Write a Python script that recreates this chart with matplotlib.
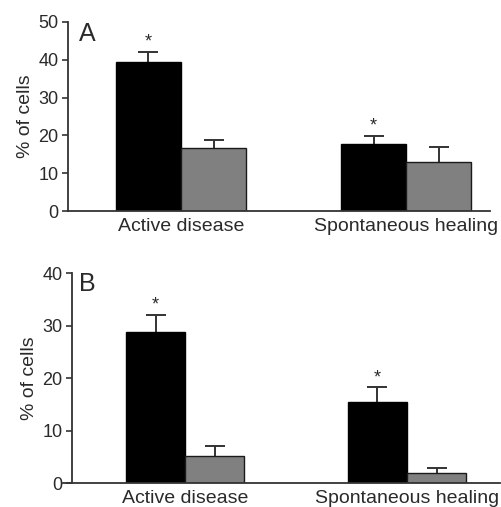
import matplotlib
matplotlib.use("Agg")
import matplotlib.pyplot as plt
import numpy as np

plt.rcParams['font.family'] = ['Liberation Sans', 'DejaVu Sans']

categories = ["Active disease", "Spontaneous healing"]
# Panel A
a_black = [39.3, 17.7]
a_black_err = [2.8, 2.2]
a_grey = [16.7, 13.0]
a_grey_err = [2.1, 4.0]
# Panel B
b_black = [28.9, 15.4]
b_black_err = [3.2, 2.9]
b_grey = [5.2, 2.0]
b_grey_err = [2.0, 1.0]

TXT = "#2a2a2a"
SPINE = "#333333"

fig = plt.figure(figsize=(5.02, 5.07), dpi=100)

def up_errorbar(ax, xs, vals, errs):
    cont = ax.errorbar(xs, vals, yerr=[np.zeros(len(vals)), errs], fmt="none",
                       ecolor=SPINE, elinewidth=1.4, capsize=7, capthick=1.4, zorder=1)
    caps = cont[1]
    if len(caps) >= 2:
        caps[0].set_visible(False)

def panel(rect, black, berr, grey, gerr, ylim, yticks, xlim, width, spine_x):
    ax = fig.add_axes(rect)
    x = np.arange(len(categories))
    ax.bar(x - width / 2, black, width, color="black", edgecolor="black", linewidth=1.0, zorder=2)
    ax.bar(x + width / 2, grey, width, color="#808080", edgecolor="#1a1a1a", linewidth=1.0, zorder=2)
    up_errorbar(ax, x - width / 2, black, berr)
    up_errorbar(ax, x + width / 2, grey, gerr)
    for xi, v, e in zip(x - width / 2, black, berr):
        ax.text(xi, v + e + ylim[1] * 0.005, "*", ha="center", va="bottom", fontsize=13, color=TXT)
    ax.set_xlim(*xlim)
    ax.set_ylim(*ylim)
    ax.set_yticks(yticks)
    ax.set_xticks(x)
    ax.set_xticklabels(categories, fontsize=14, color=TXT)
    ax.tick_params(axis="x", length=0, pad=5)
    ax.tick_params(axis="y", length=4, width=1.2, color=SPINE, labelsize=13, labelcolor=TXT, pad=3)
    for s in ["top", "right"]:
        ax.spines[s].set_visible(False)
    ax.spines["left"].set_position(("data", spine_x))
    ax.spines["left"].set_color(SPINE)
    ax.spines["bottom"].set_color(SPINE)
    ax.spines["left"].set_linewidth(1.3)
    ax.spines["bottom"].set_linewidth(1.3)
    ax.set_ylabel("% of cells", fontsize=14, color=TXT, labelpad=3)
    return ax

W, H = 502, 507
# Panel A
rectA = [68 / W, 1 - 211 / H, (490 - 68) / W, (211 - 22) / H]
axA = panel(rectA, a_black, a_black_err, a_grey, a_grey_err, (0, 50), [0, 10, 20, 30, 40, 50],
            (-0.502, 1.373), 0.289, -0.502)
# Panel B
rectB = [63 / W, 1 - 483.3 / H, (500 - 63) / W, (483.3 - 273.3) / H]
axB = panel(rectB, b_black, b_black_err, b_grey, b_grey_err, (0, 40), [0, 10, 20, 30, 40],
            (-0.55, 1.419), 0.266, -0.509)

fig.text(79 / W, 1 - 22 / H, "A", fontsize=18, color=TXT, va="top", ha="left")
fig.text(79 / W, 1 - 272 / H, "B", fontsize=18, color=TXT, va="top", ha="left")

fig.savefig("out.png", dpi=100)
